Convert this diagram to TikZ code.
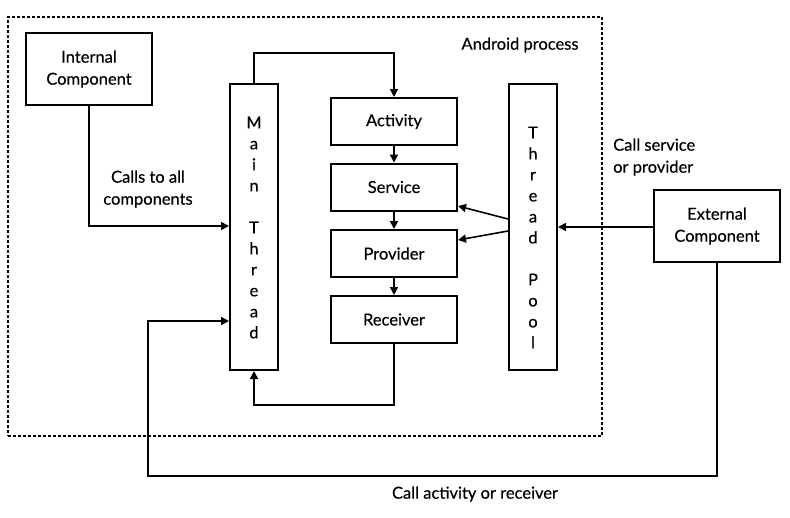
\documentclass[tikz,border=0pt]{standalone}
\usepackage{fontspec}
\setmainfont{Lato}[FakeBold=0.4,AutoFakeBold=0.4]
\usetikzlibrary{arrows.meta}
\begin{document}
\begin{tikzpicture}[x=1pt,y=-1pt,
  box/.style={draw,line width=2pt,minimum width=126pt,inner sep=0pt,align=center,font=\fontsize{16.5}{22}\selectfont},
  tall/.style={draw,line width=2pt,minimum width=48pt,minimum height=286pt,inner sep=0pt},
  vlab/.style={align=center,inner sep=0pt,font=\fontsize{16.5}{21}\selectfont},
  lab/.style={align=left,inner sep=0pt,font=\fontsize{16.5}{22}\selectfont},
  conn/.style={line width=1.6pt,-{Triangle[length=8pt,width=8pt]}}]
\useasboundingbox (0,0) rectangle (790,517);
\node[draw,line width=1.5pt,dash pattern=on 3pt off 2pt,minimum width=594pt,minimum height=419pt,inner sep=0pt] (proc) at (305,226.5) {};
\node[lab,anchor=center] (proclab) at (520,45) {Android process};
\node[box,minimum height=72pt] (int) at (89,69) {Internal\\Component};
\node[tall] (main) at (254,227) {};
\node[vlab] (mainlab) at (254,227.5) {M\\a\\i\\n\\\strut\\T\\h\\r\\e\\a\\d};
\node[box,minimum height=47pt] (act) at (394,121.5) {Activity};
\node[box,minimum height=47pt] (srv) at (394,187) {Service};
\node[box,minimum height=47pt] (prv) at (394,253.5) {Provider};
\node[box,minimum height=47pt] (rcv) at (394,319.5) {Receiver};
\node[tall] (pool) at (533,227) {};
\node[vlab] (poollab) at (533,237.5) {T\\h\\r\\e\\a\\d\\\strut\\P\\o\\o\\l};
\node[box,minimum height=72pt] (ext) at (717,226) {External\\Component};
\coordinate (c1) at (148,476);
\coordinate (c2) at (148,321);
\draw[conn] (main.north) |- (324,53) -| (act.north);
\draw[conn] (act) -- (srv);
\draw[conn] (srv) -- (prv);
\draw[conn] (prv) -- (rcv);
\draw[conn] (rcv.south) |- (300,405) -| (main.south);
\draw[conn] (int.south) |- (main.west |- 0,226);
\node[lab,align=center] (l1) at (148,189) {Calls to all\\components};
\draw[conn] (pool.west |- 0,219) -- (srv.east |- 0,206);
\draw[conn] (pool.west |- 0,231) -- (prv.east |- 0,240);
\draw[conn] (ext.west |- 0,227) -- (pool.east |- 0,227);
\node[lab,anchor=west] (l2) at (613,157) {Call service\\or provider};
\draw[conn] (ext.south) |- (c1) -- (c2) -- (main.west |- c2);
\node[lab] (l3) at (475,494) {Call activity or receiver};
\end{tikzpicture}
\end{document}
